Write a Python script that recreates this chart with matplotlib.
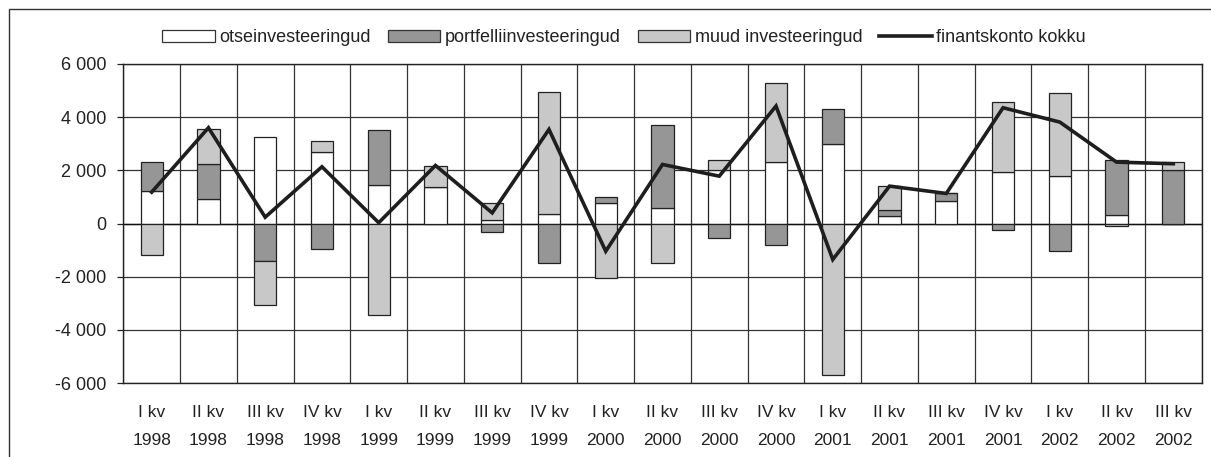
import numpy as np
import matplotlib
matplotlib.use("Agg")
import matplotlib.pyplot as plt
from matplotlib.patches import Rectangle, Patch
from matplotlib.lines import Line2D

plt.rcParams['font.family'] = ['Liberation Sans', 'DejaVu Sans']

categories = ["I kv\n1998", "II kv\n1998", "III kv\n1998", "IV kv\n1998",
              "I kv\n1999", "II kv\n1999", "III kv\n1999", "IV kv\n1999",
              "I kv\n2000", "II kv\n2000", "III kv\n2000", "IV kv\n2000",
              "I kv\n2001", "II kv\n2001", "III kv\n2001", "IV kv\n2001",
              "I kv\n2002", "II kv\n2002", "III kv\n2002"]
otse = [1217, 904, 3250, 2698, 1456, 1380, 125, 364, 753, 590, 2007, 2309, 3000, 276, 828, 1920, 1770, 301, 0]
portf = [1092, 1342, -1406, -954, 2045, 0, -326, -1493, 238, 3112, -540, -791, 1318, 239, 314, -251, -1029, 2096, 1996]
muud = [-1180, 1318, -1644, 402, -3426, 779, 628, 4593, -2046, -1481, 377, 2962, -5685, 878, 0, 2661, 3125, -88, 327]
kokku = [1180, 3602, 238, 2134, 30, 2184, 400, 3539, -1042, 2221, 1781, 4418, -1355, 1406, 1130, 4355, 3815, 2309, 2248]
series_names = ["otseinvesteeringud", "portfelliinvesteeringud", "muud investeeringud", "finantskonto kokku"]
yticks = [-6000, -4000, -2000, 0, 2000, 4000, 6000]
ytick_labels = ["-6 000", "-4 000", "-2 000", "0", "2 000", "4 000", "6 000"]

colors = ["#ffffff", "#969696", "#c8c8c8"]

W, H = 1211, 457
fig = plt.figure(figsize=(W / 100, H / 100), dpi=100)
ax = fig.add_axes([123.3 / W, 1 - 383 / H, (1201.7 - 123.3) / W, (383 - 64) / H])

x = np.arange(len(categories))
pos_base = np.zeros(len(x))
neg_base = np.zeros(len(x))
for vals, c in zip([otse, portf, muud], colors):
    v = np.array(vals, dtype=float)
    bottom = np.where(v >= 0, pos_base, neg_base)
    ax.bar(x, v, width=0.39, bottom=bottom, color=c, edgecolor="#222222",
           linewidth=0.9, zorder=3)
    pos_base = pos_base + np.where(v >= 0, v, 0)
    neg_base = neg_base + np.where(v < 0, v, 0)

ax.plot(x, kokku, color="#1e1e1e", linewidth=2.6, zorder=4, solid_joinstyle="miter")

ax.set_xlim(-0.5, len(categories) - 0.5)
ax.set_ylim(-6000, 6000)
ax.set_yticks(yticks)
ax.set_yticklabels(ytick_labels)
ax.set_xticks(x)
ax.set_xticklabels(categories, linespacing=2.1)
ax.set_xticks(np.arange(-0.5, len(categories), 1), minor=True)
ax.tick_params(axis="x", which="major", length=0, pad=15.5, labelsize=12.5, colors="#222222")
ax.tick_params(axis="x", which="minor", length=0)
ax.tick_params(axis="y", which="major", length=4, width=0.9, pad=8, labelsize=13,
               colors="#222222", direction="out")
ax.grid(which="minor", axis="x", color="#333333", linewidth=0.9, zorder=0)
ax.grid(which="major", axis="y", color="#333333", linewidth=0.9, zorder=0)
ax.axhline(0, color="#111111", linewidth=1.0, zorder=2)
for s in ax.spines.values():
    s.set_color("#222222")
    s.set_linewidth(1.0)

handles = [Patch(facecolor=c, edgecolor="#333333", linewidth=0.9) for c in colors]
handles.append(Line2D([0], [0], color="#1e1e1e", linewidth=2.6))
fig.legend(handles, series_names, loc="center left",
           bbox_to_anchor=(162.3 / W, 1 - 38 / H), ncol=4, frameon=False,
           fontsize=13, handlelength=2.9, handleheight=0.6, handletextpad=0.25,
           columnspacing=0.95, borderpad=0, borderaxespad=0, labelcolor="#222222")

fig.patches.append(Rectangle((9 / W, -0.1), 1.2, 1 - 9 / H + 0.1, transform=fig.transFigure,
                             fill=False, edgecolor="#333333", linewidth=1.0))

fig.savefig("out.png", dpi=100)
